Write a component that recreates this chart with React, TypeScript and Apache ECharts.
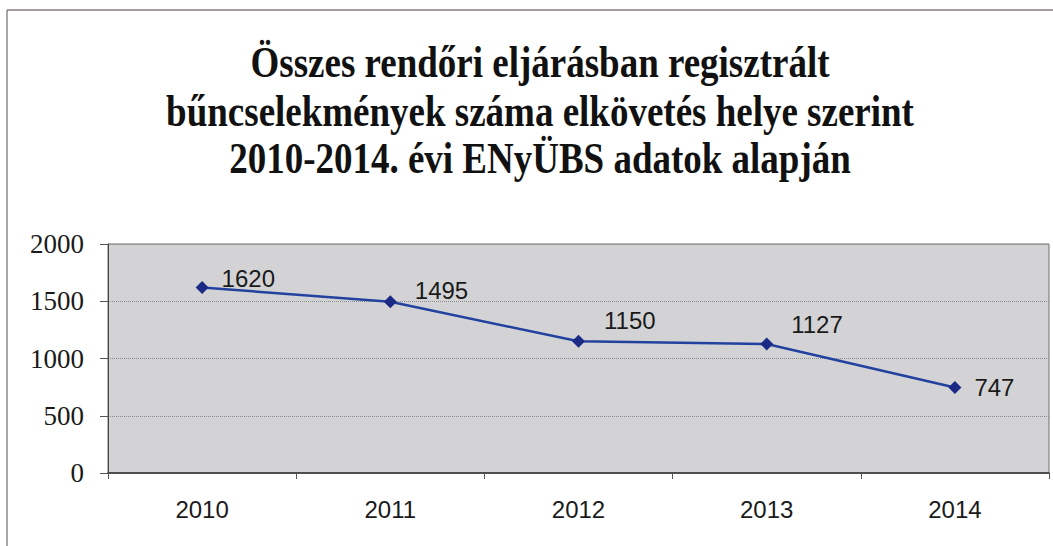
import React, { useEffect, useRef } from "react";
import * as echarts from "echarts";

const titleLines = [
  "Összes rendőri eljárásban regisztrált",
  "bűncselekmények száma elkövetés helye szerint",
  "2010-2014. évi ENyÜBS adatok alapján",
];
const years = ["2010", "2011", "2012", "2013", "2014"];
const crimeCounts = [1620, 1495, 1150, 1127, 747];
const labelOffsets = [
  [13, -9],
  [18, -11],
  [19, -21],
  [18, -19],
  [13, 0],
];

export default function App() {
  const ref = useRef<HTMLDivElement>(null);
  useEffect(() => {
    if (!ref.current) return;
    const chart = echarts.init(ref.current, undefined, { renderer: "svg" });
    const titleY = [62, 111, 158];
    chart.setOption({
      animation: false,
      backgroundColor: "#ffffff",
      grid: { left: 108, right: 4, top: 244, bottom: 73, show: true, backgroundColor: "#d3d3d5", borderColor: "#6f6f6f", borderWidth: 1 },
      graphic: [
        { type: "line", shape: { x1: 7, y1: 10, x2: 7, y2: 546 }, style: { stroke: "#8a8a8a", lineWidth: 1.5 } },
        { type: "line", shape: { x1: 7, y1: 10, x2: 1053, y2: 10 }, style: { stroke: "#8a7a7a", lineWidth: 1.5 } },
        ...titleLines.map((t, i) => ({
          type: "text",
          x: 540,
          y: titleY[i],
          scaleY: 1.17,
          style: {
            text: t,
            fill: "#111",
            font: "bold 37px 'Liberation Serif', 'Times New Roman', serif",
            textAlign: "center",
            textVerticalAlign: "middle",
          },
        })),
      ],
      xAxis: {
        type: "category",
        data: years,
        boundaryGap: true,
        axisLine: { lineStyle: { color: "#333", width: 1.5 } },
        axisTick: { show: true, length: 6, lineStyle: { color: "#555" } },
        axisLabel: { margin: 24, color: "#1a1a1a", fontSize: 24, fontFamily: "'Liberation Sans', Arial, sans-serif" },
        splitLine: { show: false },
      },
      yAxis: {
        type: "value",
        min: 0,
        max: 2000,
        interval: 500,
        axisLine: { show: true, lineStyle: { color: "#444", width: 1 } },
        axisTick: { show: true, length: 8, lineStyle: { color: "#555" } },
        axisLabel: {
          margin: 24,
          color: "#1a1a1a",
          fontSize: 27,
          fontFamily: "'Liberation Serif', 'Times New Roman', serif",
          formatter: (v: number) => String(v),
        },
        splitLine: { show: true, lineStyle: { color: "#8d8d8d", type: "dotted", width: 1 } },
      },
      series: [
        {
          type: "line",
          data: crimeCounts.map((v, i) => ({
            value: v,
            label: { offset: labelOffsets[i] },
          })),
          symbol: "diamond",
          symbolSize: 13,
          lineStyle: { color: "#2342a0", width: 2.5 },
          itemStyle: { color: "#1b2b85" },
          label: {
            show: true,
            position: "right",
            distance: 0,
            color: "#1a1a1a",
            fontSize: 24,
            fontFamily: "'Liberation Sans', Arial, sans-serif",
          },
        },
      ],
    });
    return () => chart.dispose();
  }, []);
  return <div ref={ref} style={{ position: "absolute", left: 0, top: 0, width: 1053, height: 546 }} />;
}
